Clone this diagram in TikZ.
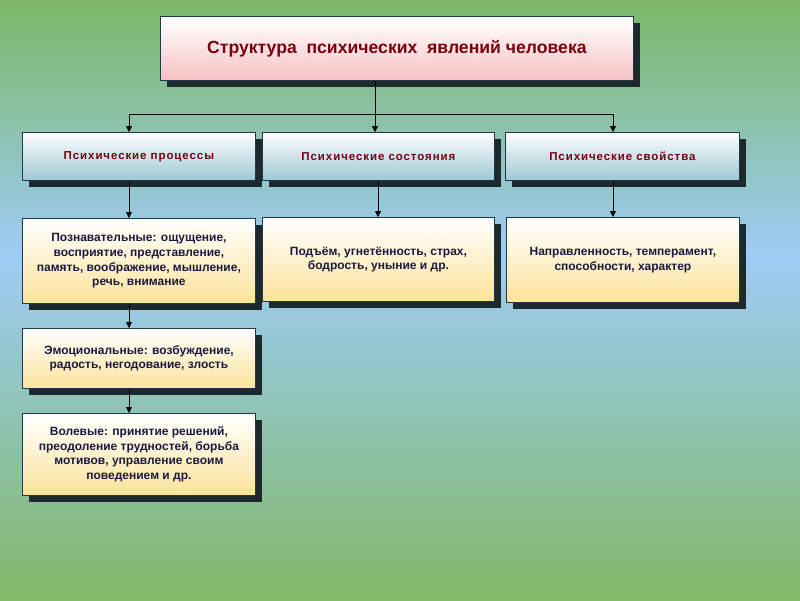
\documentclass[tikz,border=0pt]{standalone}
\usepackage{fontspec}
\setmainfont{Liberation Sans}
\usetikzlibrary{shadows,arrows.meta}
\definecolor{bggreen}{HTML}{7CB865}
\definecolor{bggreen2}{HTML}{80B968}
\definecolor{bgblue}{HTML}{9ECCF6}
\definecolor{shad}{HTML}{1C2A2E}
\definecolor{edge}{HTML}{1E3A48}
\definecolor{pinkb}{HTML}{F7C2C4}
\definecolor{tealb}{HTML}{9CC8D4}
\definecolor{yelb}{HTML}{FCE39A}
\definecolor{darkred}{HTML}{7A0010}
\definecolor{navy}{HTML}{1A1A40}
\pgfdeclareverticalshading{bgsh}{100bp}{color(0bp)=(bggreen2); color(25bp)=(bggreen2); color(53.75bp)=(bgblue); color(75bp)=(bggreen); color(100bp)=(bggreen)}
\begin{document}
\begin{tikzpicture}[x=1pt,y=-1pt,
  box/.style={draw=edge, line width=0.8pt, anchor=north west, inner sep=0pt, align=center,
    drop shadow={shadow xshift=7pt, shadow yshift=-7pt, fill=shad, opacity=1}},
  titlebox/.style={box, top color=white, bottom color=pinkb, text=darkred,
    font=\bfseries\fontsize{17.6}{20}\selectfont},
  headbox/.style={box, top color=white, bottom color=tealb, text=darkred,
    font=\bfseries\fontsize{11.5}{14}\selectfont\addfontfeature{LetterSpace=8}},
  itembox/.style={box, top color=white, bottom color=yelb, text=navy,
    font=\bfseries\fontsize{12}{14.6}\selectfont},
  arr/.style={draw=black, line width=0.8pt, -{Triangle[width=6pt,length=6pt]}},
  ln/.style={draw=black, line width=0.8pt}]
\useasboundingbox (0,0) rectangle (800,600);
\shade[shading=bgsh] (0,0) rectangle (800,600);

\node[titlebox, minimum width=473pt, minimum height=64pt] (title) at (160,16)
  {Структура\ \ психических\ \ явлений человека};

\node[headbox, minimum width=233pt, minimum height=48pt] (pa) at (22,132) {Психические процессы};
\node[headbox, minimum width=232pt, minimum height=48pt] (pb) at (262,132) {Психические состояния};
\node[headbox, minimum width=234pt, minimum height=48pt] (pc) at (505,132) {Психические свойства};

\node[itembox, minimum width=233pt, minimum height=85pt] (a1) at (22,218)
  {Познавательные: ощущение,\\восприятие, представление,\\память, воображение, мышление,\\речь, внимание};
\node[itembox, minimum width=232pt, minimum height=84pt] (b1) at (262,217)
  {Подъём, угнетённость, страх,\\бодрость, уныние и др.};
\node[itembox, minimum width=233pt, minimum height=85pt] (c1) at (506,217)
  {Направленность, темперамент,\\способности, характер};
\node[itembox, minimum width=233pt, minimum height=60pt] (a2) at (22,328)
  {Эмоциональные: возбуждение,\\радость, негодование, злость};
\node[itembox, minimum width=233pt, minimum height=82pt] (a3) at (22,413)
  {Волевые: принятие решений,\\преодоление трудностей,\ борьба\\мотивов,\ управление своим\\поведением и др.};

\coordinate (hl) at (129,114);
\coordinate (hm) at (375,114);
\coordinate (hr) at (613,114);
\coordinate (xb) at (378,0);

\draw[ln] (hl) -- (hr);
\draw[arr] (title.south -| hm) -- (pb.north -| hm);
\draw[arr] (hl) -- (pa.north -| hl);
\draw[arr] (hr) -- (pc.north -| hr);
\draw[arr] (pa.south -| hl) -- (a1.north -| hl);
\draw[arr] (pb.south -| xb) -- (b1.north -| xb);
\draw[arr] (pc.south -| hr) -- (c1.north -| hr);
\draw[arr] (a1.south -| hl) -- (a2.north -| hl);
\draw[arr] (a2.south -| hl) -- (a3.north -| hl);
\end{tikzpicture}
\end{document}
